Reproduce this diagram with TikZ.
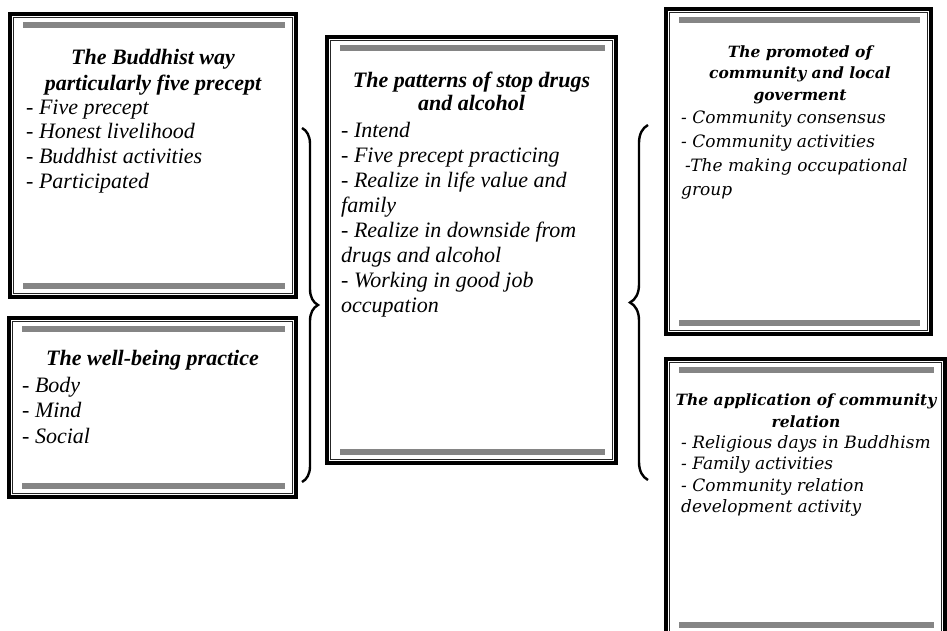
\documentclass[tikz,border=0pt]{standalone}
\usepackage{fontspec}
\setmainfont{Liberation Serif}
\newfontfamily\dejavu{DejaVu Serif}
\usetikzlibrary{calc,decorations.pathreplacing}
\definecolor{barcol}{gray}{0.52}
\tikzset{
  boxframe/.style={draw=black, line width=3.5pt, rectangle, inner sep=0pt, outer sep=0pt},
  innerline/.style={draw=black!85, line width=0.9pt},
  graybar/.style={draw=barcol, line width=6pt},
  ttlA/.style={align=center, inner sep=0pt, font=\fontsize{22}{25.5}\selectfont\bfseries\itshape},
  itmA/.style={align=left, inner sep=0pt, font=\fontsize{22}{24.6}\selectfont\itshape},
  ttlD/.style={align=center, inner sep=0pt, font=\fontsize{15.5}{21.5}\selectfont\dejavu\bfseries\itshape},
  itmD/.style={align=left, inner sep=0pt, font=\fontsize{17}{24}\selectfont\dejavu\itshape},
  brc/.style={decorate, line width=2.4pt, draw=black}
}
\newcommand\twobox[5]{%
  \node[boxframe, minimum width={#4-#2}, minimum height={#5-#3}] (#1) at ({(#2+#4)/2},{(#3+#5)/2}) {};
  \draw[innerline] ($(#1.north west)+(3.9,3.9)$) rectangle ($(#1.south east)+(-3.9,-3.9)$);
  \draw[graybar] ($(#1.north west)+(13,11)$) -- ($(#1.north east)+(-11,11)$);
  \draw[graybar] ($(#1.south west)+(13,-11)$) -- ($(#1.south east)+(-11,-11)$);
}
\begin{document}
\begin{tikzpicture}[x=1pt,y=-1pt]
\useasboundingbox (0,0) rectangle (947,631);
\clip (0,0) rectangle (947,631);
\fill[white] (0,0) rectangle (947,631);
% boxes
\twobox{bA}{10}{14}{296}{297}
\twobox{bB}{9}{318}{296}{497}
\twobox{bC}{327}{37}{616}{463}
\twobox{bD}{666}{9}{931}{334}
\twobox{bE}{666}{359}{945}{636}
% texts
\node[ttlA, anchor=north] (tA) at (153,46.5) {\strut The Buddhist way\\\strut particularly five precept};
\node[itmA, anchor=north west] (iA) at (26,96.8) {\strut - Five precept\\\strut - Honest livelihood\\\strut - Buddhist activities\\\strut - Participated};
\node[ttlA, anchor=north] (tB) at (152.5,347.2) {\strut The well-being practice};
\node[itmA, anchor=north west, font=\fontsize{22}{25.5}\selectfont\itshape] (iB) at (22,374.2) {\strut - Body\\\strut - Mind\\\strut - Social};
\node[ttlA, anchor=north, font=\fontsize{22}{23}\selectfont\bfseries\itshape] (tC) at (471.5,70.9) {\strut The patterns of stop drugs\\\strut and alcohol};
\node[itmA, anchor=north west, font=\fontsize{22}{25}\selectfont\itshape] (iC) at (341,119.5) {\strut - Intend\\\strut - Five precept practicing\\\strut - Realize in life value and\\\strut family\\\strut - Realize in downside from\\\strut drugs and alcohol\\\strut - Working in good job\\\strut occupation};
\node[ttlD, anchor=north] (tD) at (800,42) {\strut The promoted of\\\strut community and local\\\strut goverment};
\node[itmD, anchor=north west] (iD) at (681,106.2) {\strut - Community consensus\\\strut - Community activities\\\strut\hspace{4pt}-The making occupational\\\strut group};
\node[ttlD, anchor=north, font=\fontsize{15.5}{22}\selectfont\dejavu\bfseries\itshape] (tE) at (806,389.6) {\strut The application of community\\\strut relation};
\node[itmD, anchor=north west, font=\fontsize{17}{21.5}\selectfont\dejavu\itshape] (iE) at (681,433) {\strut - Religious days in Buddhism\\\strut - Family activities\\\strut - Community relation\\\strut development activity};
% braces
\coordinate (lbTop) at (302,128);
\coordinate (lbBot) at (302,482);
\coordinate (rbTop) at (648,125);
\coordinate (rbBot) at (648,480);
\draw[brc, decoration={brace, amplitude=16pt}] (lbTop) -- (lbBot);
\draw[brc, decoration={brace, amplitude=18pt}] (rbBot) -- (rbTop);
\end{tikzpicture}
\end{document}
